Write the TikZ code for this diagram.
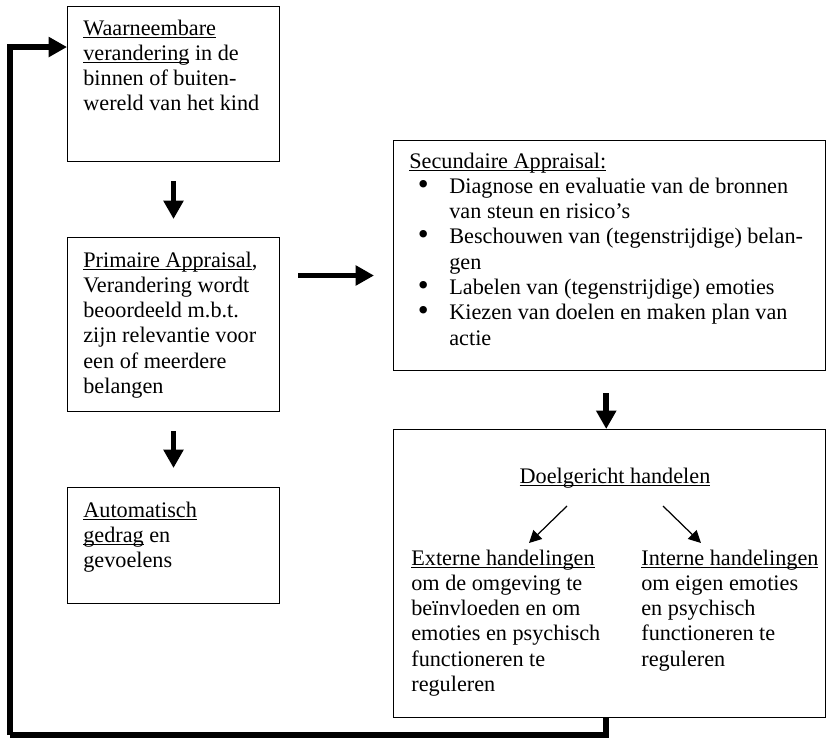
\documentclass[tikz,border=0pt]{standalone}
\usepackage{fontspec}
\setmainfont{Liberation Serif}
\usetikzlibrary{arrows.meta}

\newcommand{\onderlijn}[1]{\underline{\smash{#1}}}
\newcommand{\opsom}{\makebox[0.8cm][l]{\hspace{0.17cm}\raisebox{-0.6pt}{\scalebox{1.4}{\textbullet}}}}
\newcommand{\inspring}{\hspace*{0.8cm}}

\begin{document}
\begin{tikzpicture}[x=0.02cm, y=-0.02cm,
		kader/.style={draw, line width=0.6pt, anchor=north west, inner sep=0pt},
		tekst/.style={anchor=base west, align=left, inner sep=0pt,
			font=\fontsize{12.65}{14.4}\selectfont},
		dikpijl/.style={line width=3.2pt, -{Triangle[length=10.5pt, width=11pt]}},
		dunpijl/.style={line width=0.7pt, -{Triangle[length=7pt, width=7pt]}},
		terug/.style={line width=3.2pt}
	]
	\useasboundingbox (0,0) rectangle (827,737);
	
	% kaders
	\node[kader, minimum width=4.24cm, minimum height=3.10cm] (waarneem) at (67,6) {};
	\node[kader, minimum width=4.24cm, minimum height=3.48cm] (primair) at (67,237) {};
	\node[kader, minimum width=4.24cm, minimum height=2.32cm] (automat) at (67,487) {};
	\node[kader, minimum width=8.65cm, minimum height=4.60cm] (secund) at (393,140) {};
	\node[kader, minimum width=8.65cm, minimum height=5.76cm] (doel) at (393,429) {};
	
	% teksten (base west = basislijn van de laatste regel)
	\node[tekst] (waarneemtxt) at (83,110.9) {\onderlijn{Waarneembare}\\
		\onderlijn{verandering} in de\\
		binnen of buiten-\\
		wereld van het kind};
	\node[tekst] (primairtxt) at (83,393.5) {\onderlijn{Primaire Appraisal},\\
		Verandering wordt\\
		beoordeeld m.b.t.\\
		zijn relevantie voor\\
		een of meerdere\\
		belangen};
	\node[tekst] (automattxt) at (83,567.6) {\onderlijn{Automatisch}\\
		\onderlijn{gedrag} en\\
		gevoelens};
	\node[tekst] (secundtxt) at (409,345.1) {\onderlijn{Secundaire Appraisal:}\\
		\opsom Diagnose en evaluatie van de bronnen\\
		\inspring van steun en risico’s\\
		\opsom Beschouwen van (tegenstrijdige) belan-\\
		\inspring gen\\
		\opsom Labelen van (tegenstrijdige) emoties\\
		\opsom Kiezen van doelen en maken plan van\\
		\inspring actie};
	\node[tekst, anchor=base] (doelg) at (615,483) {\onderlijn{Doelgericht handelen}};
	\node[tekst] (extern) at (411,691.5) {\onderlijn{Externe handelingen}\\
		om de omgeving te\\
		beïnvloeden en om\\
		emoties en psychisch\\
		functioneren te\\
		reguleren};
	\node[tekst] (intern) at (641,666.2) {\onderlijn{Interne handelingen}\\
		om eigen emoties\\
		en psychisch\\
		functioneren te\\
		reguleren};
	
	% pijlen
	\draw[dikpijl, shorten <=0.38cm, shorten >=0.36cm] (waarneem.south) -- (primair.north);
	\draw[dikpijl, shorten <=0.38cm, shorten >=0.38cm] (primair.south) -- (automat.north);
	\draw[dikpijl, shorten <=0.36cm, shorten >=0.38cm]
		([yshift=-0.4cm]secund.west -| primair.east) -- ([yshift=-0.4cm]secund.west);
	\draw[dikpijl, shorten <=0.44cm] ([xshift=-0.07cm]secund.south) -- ([xshift=-0.07cm]doel.north);
	
	\draw[dunpijl] ([shift={(-48,23)}]doelg.base) -- ([shift={(118,-148.5)}]extern.base west);
	\draw[dunpijl] ([shift={(48,23)}]doelg.base) -- ([shift={(60,-123.2)}]intern.base west);
	
	% terugkoppeling
	\coordinate (hoek) at (10,735);
	\draw[terug] ([xshift=-0.075cm]doel.south) |- (hoek);
	\draw[dikpijl] (hoek) |- ([yshift=0.74cm]waarneem.west);
\end{tikzpicture}
\end{document}
